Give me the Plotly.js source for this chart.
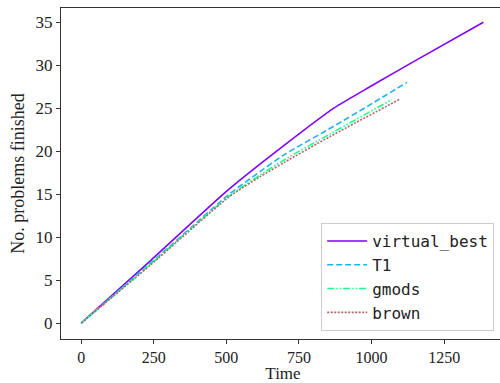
<!DOCTYPE html>
<html>
<head>
<meta charset="utf-8">
<script src="https://cdn.plot.ly/plotly-3.0.1.min.js"></script>
<style>
html,body{margin:0;padding:0;overflow:hidden;background:#fff;}
#chart{width:506px;height:383px;}
</style>
</head>
<body>
<div id="chart"></div>
<script>
// Data
const vbTime = [0, 240, 510, 700, 870, 1000, 1160, 1385];
const vbDone = [0, 7.3, 15.6, 20.7, 25, 27.6, 30.7, 35];

const t1Time = [0, 240, 510, 615, 700, 870, 985, 1122];
const t1Done = [0, 7.0, 15.0, 17.6, 19.6, 22.9, 25.2, 28];

const gmTime = [0, 240, 510, 615, 700, 857, 1070];
const gmDone = [0, 6.9, 14.8, 17.2, 19.0, 22.0, 26];

const brTime = [0, 240, 510, 615, 700, 857, 1095];
const brDone = [0, 6.8, 14.7, 17.0, 18.7, 21.7, 26];

const seriesNames = ["virtual_best", "T1", "gmods", "brown"];
const xTicks = [0, 250, 500, 750, 1000, 1250];
const yTicks = [0, 5, 10, 15, 20, 25, 30, 35];

const traces = [
  {x: vbTime, y: vbDone, name: seriesNames[0], mode: "lines",
   line: {color: "#8000ff", width: 1.6, dash: "solid", shape: "spline", smoothing: 0.6}},
  {x: t1Time, y: t1Done, name: seriesNames[1], mode: "lines",
   line: {color: "#1eb4ec", width: 1.6, dash: "6px,3px", shape: "spline", smoothing: 0.6}},
  {x: gmTime, y: gmDone, name: seriesNames[2], mode: "lines",
   line: {color: "#22ff8c", width: 1.6, dash: "7px,2px,1.5px,2px,1.5px,2px", shape: "spline", smoothing: 0.6}},
  {x: brTime, y: brDone, name: seriesNames[3], mode: "lines",
   line: {color: "#b06868", width: 1.6, dash: "2px,1.5px", shape: "spline", smoothing: 0.6}}
];

const axCommon = {
  showgrid: false, zeroline: false, showline: true, mirror: true,
  linecolor: "#333", linewidth: 1,
  ticks: "outside", ticklen: 4, tickwidth: 1, tickcolor: "#333",
  tickfont: {family: "Liberation Serif, serif", size: 17, color: "#222"}
};

const layout = {
  width: 506, height: 383,
  margin: {l: 61, r: 1, t: 8, b: 44},
  paper_bgcolor: "#fff", plot_bgcolor: "#fff",
  showlegend: true,
  xaxis: Object.assign({}, axCommon, {
    range: [-69.5, 1459.5], tickvals: xTicks,
    tickfont: {family: "Liberation Serif, serif", size: 16, color: "#222"},
    title: {text: "Time", standoff: 4,
      font: {family: "Liberation Serif, serif", size: 17, color: "#222"}}
  }),
  yaxis: Object.assign({}, axCommon, {
    range: [-1.85, 36.65], tickvals: yTicks,
    title: {text: "No. problems finished", standoff: 6,
      font: {family: "Liberation Serif, serif", size: 18, color: "#222"}}
  }),
  legend: {
    x: 0.586, y: 0.024, xanchor: "left", yanchor: "bottom",
    bgcolor: "rgba(255,255,255,0.9)", bordercolor: "#ccc", borderwidth: 1,
    font: {family: "DejaVu Sans Mono, monospace", size: 16, color: "#222"},
    itemwidth: 40
  }
};

Plotly.newPlot("chart", traces, layout, {displayModeBar: false, staticPlot: true});
</script>
</body>
</html>
